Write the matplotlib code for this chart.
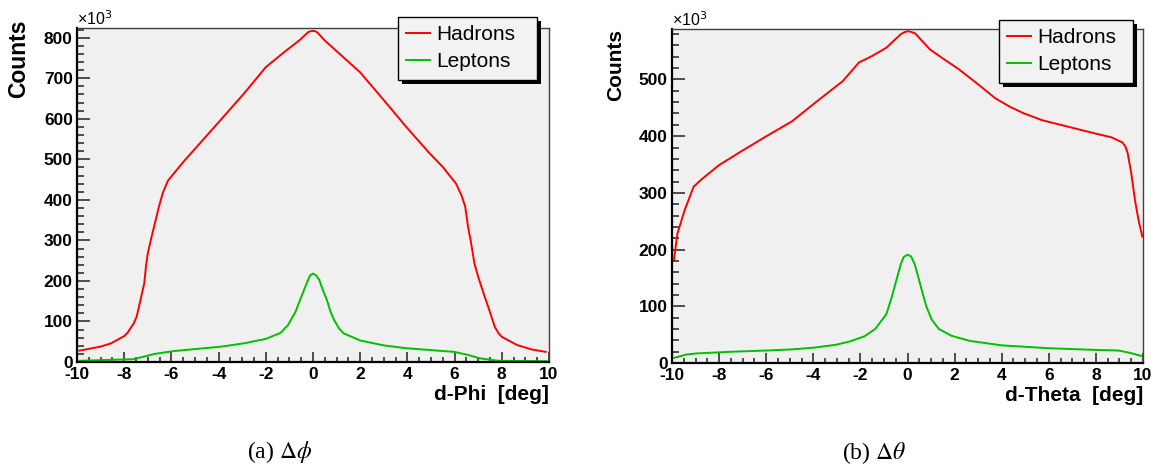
import matplotlib
matplotlib.use('Agg')
import matplotlib.pyplot as plt
from matplotlib.patches import Rectangle
from matplotlib.ticker import MultipleLocator

plt.rcParams['font.family'] = ['Liberation Sans', 'DejaVu Sans']
plt.rcParams['axes.unicode_minus'] = False

# counts are in units of 10^3
phi_had_x = [-9.9, -9.0, -8.56, -8.0, -7.86, -7.6, -7.47, -7.31, -7.15, -7.08, -7.0, -6.84,
             -6.7, -6.53, -6.37, -6.26, -6.14, -5.9, -5.43, -4.8, -3.87, -2.93, -1.99,
             -1.21, -0.59, -0.2, -0.1, 0.0, 0.1, 0.2, 0.5, 1.13, 1.99, 3.0, 3.95, 4.89,
             5.5, 6.06, 6.3, 6.45, 6.57, 6.68, 6.84, 7.0, 7.23, 7.47, 7.7, 7.86, 8.0,
             8.64, 9.26, 9.86]
phi_had = [28, 38, 46, 64, 72, 95, 112, 153, 194, 235, 268, 309,
           342, 383, 416, 432, 448, 465, 498, 539, 600, 662, 728,
           765, 793, 814, 816, 817, 816, 812, 793, 760, 715, 646, 580, 518,
           481, 440, 410, 383, 333, 300, 243, 210, 169, 128, 87, 71, 62,
           42, 31, 25]

phi_lep_x = [-9.9, -7.6, -6.7, -5.9, -3.87, -2.93, -2.0, -1.37, -1.06, -0.74, -0.5, -0.27,
             -0.12, 0.0, 0.13, 0.27, 0.42, 0.59, 0.74, 0.9, 1.1, 1.29, 2.0, 3.0, 3.95,
             5.98, 6.6, 7.08, 7.86, 9.9]
phi_lep = [3, 7, 20, 27, 38, 46, 57, 72, 91, 124, 160, 194,
           214, 218, 214, 202, 177, 153, 124, 103, 83, 71, 53, 41, 34,
           25, 17, 9, 3, 2]

theta_had_x = [-9.92, -9.77, -9.46, -9.08, -8.77, -8.0, -7.07, -5.99, -4.91, -3.83, -2.75,
               -2.06, -1.52, -0.9, -0.28, -0.1, 0.02, 0.15, 0.33, 0.95, 1.57, 2.18, 2.64,
               3.1, 3.72, 4.34, 4.95, 5.73, 6.5, 7.27, 8.04, 8.66, 9.12, 9.25, 9.35, 9.5,
               9.66, 9.81, 9.97]
theta_had = [181, 228, 270, 311, 323, 349, 373, 400, 426, 462, 497,
             530, 541, 556, 580, 584, 585, 584, 581, 553, 535, 518, 503,
             488, 467, 452, 440, 428, 420, 412, 404, 398, 389, 382, 370, 335,
             287, 252, 223]

theta_lep_x = [-9.92, -9.38, -8.92, -7.38, -5.99, -4.91, -3.99, -3.06, -2.45, -1.83, -1.37,
               -0.9, -0.67, -0.44, -0.28, -0.16, 0.0, 0.15, 0.3, 0.46, 0.61, 0.79, 1.02,
               1.33, 1.87, 2.64, 4.03, 6.03, 8.04, 8.96, 9.43, 9.97]
theta_lep = [9, 15, 17, 20, 22, 24, 27, 32, 38, 47, 60,
             86, 116, 151, 175, 187, 191, 188, 175, 151, 128, 101, 77,
             60, 48, 39, 31, 26, 23, 22, 18, 12]

series_names = ['Hadrons', 'Leptons']
line_colors = ['#ff0000', '#00c000']

fig = plt.figure(figsize=(11.56, 4.67), dpi=100)
W, H = 1156, 467

panels = [
    dict(rect=[77 / W, 105 / H, 472 / W, 334 / H], ymax=824,
         had=(phi_had_x, phi_had), lep=(phi_lep_x, phi_lep), xlabel='d-Phi  [deg]',
         leg=(398, 17, 139), ylab=(-0.123, 1.024, 16.5), caption=r'(a) $\Delta\phi$'),
    dict(rect=[672 / W, 104 / H, 471 / W, 334 / H], ymax=589,
         had=(theta_had_x, theta_had), lep=(theta_lep_x, theta_lep), xlabel='d-Theta  [deg]',
         leg=(999, 20, 134), ylab=(-0.119, 1.0, 15), caption=r'(b) $\Delta\theta$'),
]

fig.canvas.draw()
for p in panels:
    ax = fig.add_axes(p['rect'])
    ax.set_facecolor('#f0f0f0')
    l1, = ax.plot(*p['had'], color=line_colors[0], lw=1.4)
    l2, = ax.plot(*p['lep'], color=line_colors[1], lw=1.4)
    ax.set_xlim(-10, 10)
    ax.set_ylim(0, p['ymax'])
    ax.xaxis.set_major_locator(MultipleLocator(2))
    ax.xaxis.set_minor_locator(MultipleLocator(0.5))
    ax.yaxis.set_major_locator(MultipleLocator(100))
    ax.yaxis.set_minor_locator(MultipleLocator(20))
    ax.tick_params(axis='both', which='both', direction='in', top=False, right=False,
                   labelsize=12.5, width=1.1, colors='#222222', labelcolor='black')
    ax.tick_params(axis='x', which='major', length=7, pad=3.5)
    ax.tick_params(axis='x', which='minor', length=3.5)
    ax.tick_params(axis='y', which='major', length=9.5, pad=3)
    ax.tick_params(axis='y', which='minor', length=4.7)
    for lab in ax.get_xticklabels() + ax.get_yticklabels():
        lab.set_fontweight('bold')
    for s in ['left', 'bottom']:
        ax.spines[s].set_linewidth(1.6)
        ax.spines[s].set_color('black')
    for s in ['top', 'right']:
        ax.spines[s].set_linewidth(1.0)
        ax.spines[s].set_color('#404040')

    ax.text(0.0, 1.0, '×10$^{3}$', transform=ax.transAxes, ha='left', va='bottom',
            fontsize=11.5)
    yx, yy, ys = p['ylab']
    ax.text(yx, yy, 'Counts', transform=ax.transAxes, rotation=90,
            ha='center', va='top', fontsize=ys, fontweight='bold')
    ax.text(1.0, -0.098, p['xlabel'], transform=ax.transAxes, ha='right', va='center',
            fontsize=15, fontweight='bold')

    lx, ly, lw = p['leg']
    leg = ax.legend([l1, l2], series_names, loc='upper left', mode='expand',
                    bbox_to_anchor=(lx / W, (H - ly) / H, lw / W, 0),
                    bbox_transform=fig.transFigure, borderaxespad=0, fontsize=15,
                    frameon=True, fancybox=False, framealpha=1, handlelength=1.15,
                    handletextpad=0.3, borderpad=0.4, labelspacing=0.38)
    leg.get_frame().set_edgecolor('black')
    leg.get_frame().set_linewidth(1.0)
    leg.get_frame().set_facecolor('#f2f2f2')
    for h in leg.legend_handles:
        h.set_linewidth(1.4)
    fig.canvas.draw()
    bb = leg.get_window_extent()
    shadow = Rectangle((bb.x0 + 4, bb.y0 - 4), bb.width, bb.height,
                       transform=matplotlib.transforms.IdentityTransform(),
                       facecolor='black', edgecolor='none', zorder=4.9, clip_on=False)
    ax.add_artist(shadow)

    ax.text(0.43, -0.27, p['caption'], transform=ax.transAxes, ha='center', va='center',
            fontsize=17, family='Liberation Serif', math_fontfamily='stix')

fig.savefig('out.png', dpi=100)
